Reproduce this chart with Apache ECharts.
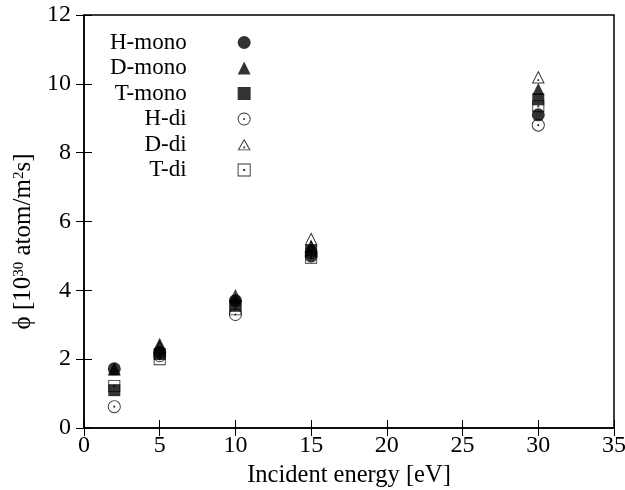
<!DOCTYPE html>
<html>
<head>
<meta charset="utf-8">
<script src="https://cdn.jsdelivr.net/npm/echarts@6/dist/echarts.min.js"></script>
<style>
html, body { margin: 0; padding: 0; background: #fff; }
#main { width: 625px; height: 490px; }
</style>
</head>
<body>
<div id="main"></div>
<script>
// incident energies (eV)
var energy = [2, 5, 10, 15, 30];
// flux values, 10^30 atom/m^2 s
var hMono = [1.72, 2.2, 3.7, 5.0, 9.1];
var dMono = [1.7, 2.45, 3.8, 5.3, 9.85];
var tMono = [1.1, 2.15, 3.55, 5.15, 9.55];
var hDi = [0.62, 2.1, 3.3, 5.1, 8.8];
var dDi = [1.72, 2.35, 3.85, 5.5, 10.2];
var tDi = [1.22, 2.0, 3.45, 4.95, 9.35];

var names = ['H-mono', 'D-mono', 'T-mono', 'H-di', 'D-di', 'T-di'];
var values = [hMono, dMono, tMono, hDi, dDi, tDi];

// open symbols with a centre dot (ring + dot)
var openCircle = 'path://M0 -10 A10 10 0 1 1 0 10 A10 10 0 1 1 0 -10 Z' +
  'M0 -8.6 A8.6 8.6 0 1 0 0 8.6 A8.6 8.6 0 1 0 0 -8.6 Z' +
  'M0 -1.6 A1.6 1.6 0 1 1 0 1.6 A1.6 1.6 0 1 1 0 -1.6 Z';
var openTri = 'path://M0 -10 L10 8 L-10 8 Z M0 -6.8 L-7.6 6.6 L7.6 6.6 Z' +
  'M-1.4 2.2 L1.4 2.2 L1.4 4.6 L-1.4 4.6 Z';
var openSquare = 'path://M-10 -10 L10 -10 L10 10 L-10 10 Z M-8.6 -8.6 L-8.6 8.6 L8.6 8.6 L8.6 -8.6 Z' +
  'M-1.6 -1.6 L1.6 -1.6 L1.6 1.6 L-1.6 1.6 Z';

var symbols = ['circle', 'triangle', 'rect', openCircle, openTri, openSquare];
var sizes = [13, 12, 12, 13, 13, 12];

var font = 'Liberation Serif';

var series = names.map(function (n, k) {
  return {
    name: n,
    type: 'scatter',
    symbol: symbols[k],
    symbolSize: sizes[k],
    itemStyle: { color: '#000' },
    data: energy.map(function (e, i) { return [e, values[k][i]]; })
  };
});

var chart = echarts.init(document.getElementById('main'));
chart.setOption({
  animation: false,
  backgroundColor: '#fff',
  textStyle: { fontFamily: font },
  grid: {
    left: 84, right: 11, top: 15, bottom: 62,
    outerBoundsMode: 'none', containLabel: false,
    show: true, borderColor: '#000', borderWidth: 1.5
  },
  legend: {
    orient: 'vertical',
    left: 105,
    top: 26,
    align: 'right',
    itemWidth: 13,
    itemHeight: 13,
    itemGap: 2.5,
    data: names,
    formatter: function (n) { return '{t|' + n + '}'; },
    textStyle: {
      rich: { t: { fontFamily: font, fontSize: 23, color: '#000', padding: [0, 46, 0, 0] } }
    }
  },
  xAxis: [{
    type: 'value', min: 0, max: 35, interval: 5,
    name: 'Incident energy [eV]', nameLocation: 'middle', nameGap: 30,
    nameTextStyle: { fontFamily: font, fontSize: 24.5, color: '#000' },
    axisLine: { lineStyle: { color: '#000', width: 1.5 } },
    axisTick: { inside: true, length: 8, lineStyle: { color: '#000' } },
    axisLabel: { fontFamily: font, fontSize: 24, color: '#000', margin: 6 },
    splitLine: { show: false }
  }, {
    type: 'value', min: 0, max: 35, interval: 5, position: 'top',
    axisLine: { show: false },
    axisTick: { inside: true, length: 8, lineStyle: { color: '#000' } },
    axisLabel: { show: false }, splitLine: { show: false }
  }],
  yAxis: [{
    type: 'value', min: 0, max: 12, interval: 2,
    name: '{a|ϕ [10}{s|30}{a| atom/m}{s|2}{a|s]}',
    nameLocation: 'middle', nameGap: 36, nameRotate: 90,
    nameTextStyle: {
      padding: [0, 40, 0, 0],
      rich: {
        a: { fontFamily: font, fontSize: 25, color: '#000' },
        s: { fontFamily: font, fontSize: 15, color: '#000', verticalAlign: 'top', padding: [0, 0, 10, 0] }
      }
    },
    axisLine: { lineStyle: { color: '#000', width: 1.5 } },
    axisTick: { inside: true, length: 8, lineStyle: { color: '#000' } },
    axisLabel: { fontFamily: font, fontSize: 24, color: '#000', margin: 13 },
    splitLine: { show: false }
  }, {
    type: 'value', min: 0, max: 12, interval: 2, position: 'right',
    axisLine: { show: false },
    axisTick: { inside: true, length: 8, lineStyle: { color: '#000' } },
    axisLabel: { show: false }, splitLine: { show: false }
  }],
  series: series
});
</script>
</body>
</html>
